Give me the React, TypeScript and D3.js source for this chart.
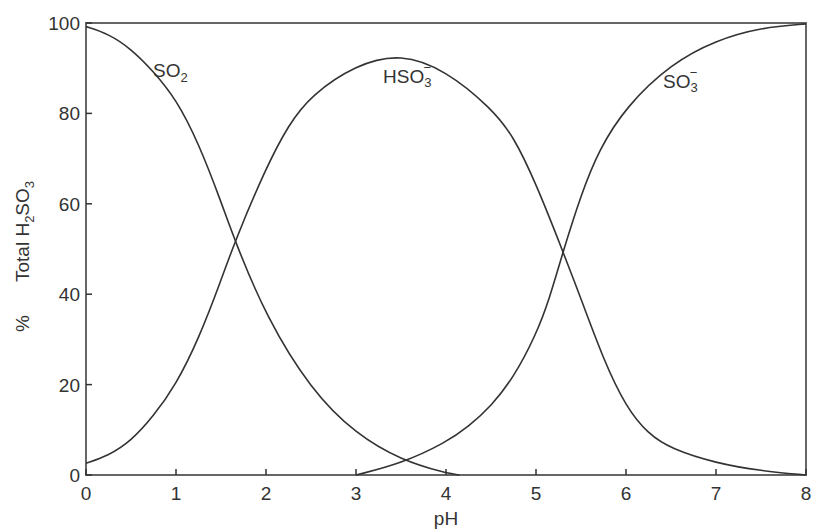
import React from "react";
import * as d3 from "d3";

// pH sample points and % of total H2SO3
const so2PH = [0, 0.25, 0.5, 0.75, 1.0, 1.25, 1.5, 1.65, 2.0, 2.5, 3.0, 3.5, 4.0, 4.15];
const so2Pct = [99.2, 97.6, 94.3, 89.3, 83.2, 73.5, 60.5, 52, 35, 18.8, 9, 3.3, 0.4, 0];

const hso3PH = [0, 0.25, 0.5, 0.75, 1.0, 1.25, 1.5, 1.65, 2.0, 2.25, 2.5, 3.0, 3.5, 4.0, 4.5, 4.75, 5.0, 5.3, 5.5, 5.75, 6.0, 6.25, 6.5, 7.0, 7.5, 8.0];
const hso3Pct = [2.6, 4.3, 7.5, 13, 20, 30, 43, 51.5, 68, 77.5, 84, 90.8, 93.3, 89.5, 81.2, 75, 64.5, 49.4, 39, 25.5, 15, 9, 5.8, 2.6, 0.9, 0];

const so3PH = [3.0, 3.5, 4.0, 4.25, 4.5, 4.75, 5.0, 5.15, 5.3, 5.5, 5.7, 6.0, 6.5, 7.0, 7.5, 8.0];
const so3Pct = [0, 2.5, 7.2, 10.7, 15.2, 21.5, 31, 39, 49.4, 62, 72, 81.5, 91, 96.2, 99, 99.8];

const xTicks = [0, 1, 2, 3, 4, 5, 6, 7, 8];
const yTicks = [0, 20, 40, 60, 80, 100];

const W = 814;
const H = 531;
const margin = { top: 23, right: 8, bottom: 56, left: 86 };

const axisColor = "#666";
const inkColor = "#333";
const font = "Liberation Sans, Arial, sans-serif";

export default function App() {
  const x = d3.scaleLinear().domain([0, 8]).range([margin.left, W - margin.right]);
  const y = d3.scaleLinear().domain([0, 100]).range([H - margin.bottom, margin.top]);

  const line = d3
    .line<[number, number]>()
    .x((d) => x(d[0]))
    .y((d) => y(d[1]))
    .curve(d3.curveBasis);

  const zip = (a: number[], b: number[]) => a.map((v, i) => [v, b[i]] as [number, number]);
  const curves = [zip(so2PH, so2Pct), zip(hso3PH, hso3Pct), zip(so3PH, so3Pct)];

  const x0 = x(0), x1 = x(8), y0 = y(0), y1 = y(100);

  return (
    <svg
      width={W}
      height={H}
      style={{ position: "absolute", left: 0, top: 0, background: "#fff" }}
      fontFamily={font}
    >
      {/* frame */}
      <rect x={x0} y={y1} width={x1 - x0} height={y0 - y1} fill="none" stroke={axisColor} strokeWidth={2} />

      {/* x ticks */}
      {xTicks.map((t) => (
        <g key={"x" + t}>
          <line x1={x(t)} x2={x(t)} y1={y0} y2={y0 - 6} stroke={inkColor} strokeWidth={1.5} />
          <text x={x(t)} y={500} textAnchor="middle" fontSize={19} fill={inkColor}>
            {t}
          </text>
        </g>
      ))}

      {/* y ticks */}
      {yTicks.map((t) => (
        <g key={"y" + t}>
          <line x1={x0} x2={x0 + 6} y1={y(t)} y2={y(t)} stroke={inkColor} strokeWidth={1.5} />
          <text x={80} y={y(t) + 7} textAnchor="end" fontSize={19} fill={inkColor}>
            {t}
          </text>
        </g>
      ))}

      {/* curves */}
      {curves.map((c, i) => (
        <path key={i} d={line(c) || ""} fill="none" stroke={inkColor} strokeWidth={1.6} />
      ))}

      {/* species labels */}
      <text x={153} y={77} fontSize={19} fill={inkColor}>
        SO<tspan dy={5} fontSize={13}>2</tspan>
      </text>
      <text x={383} y={83} fontSize={19} fill={inkColor}>
        HSO<tspan dy={4} fontSize={13}>3</tspan>
        <tspan dx={-8} dy={-15} fontSize={13}>−</tspan>
      </text>
      <text x={663} y={88} fontSize={19} fill={inkColor}>
        SO<tspan dy={4} fontSize={13}>3</tspan>
        <tspan dx={-8} dy={-15} fontSize={13}>−</tspan>
      </text>

      {/* axis titles */}
      <text x={446} y={525} textAnchor="middle" fontSize={19} fill={inkColor}>
        pH
      </text>
      <g transform="translate(29,0) rotate(-90)">
        <text x={-332} y={0} fontSize={19} fill={inkColor}>
          %
        </text>
        <text x={-282} y={0} fontSize={19} fill={inkColor}>
          Total H<tspan dy={5} fontSize={13}>2</tspan>
          <tspan dy={-5}>SO</tspan>
          <tspan dy={5} fontSize={13}>3</tspan>
        </text>
      </g>
    </svg>
  );
}
